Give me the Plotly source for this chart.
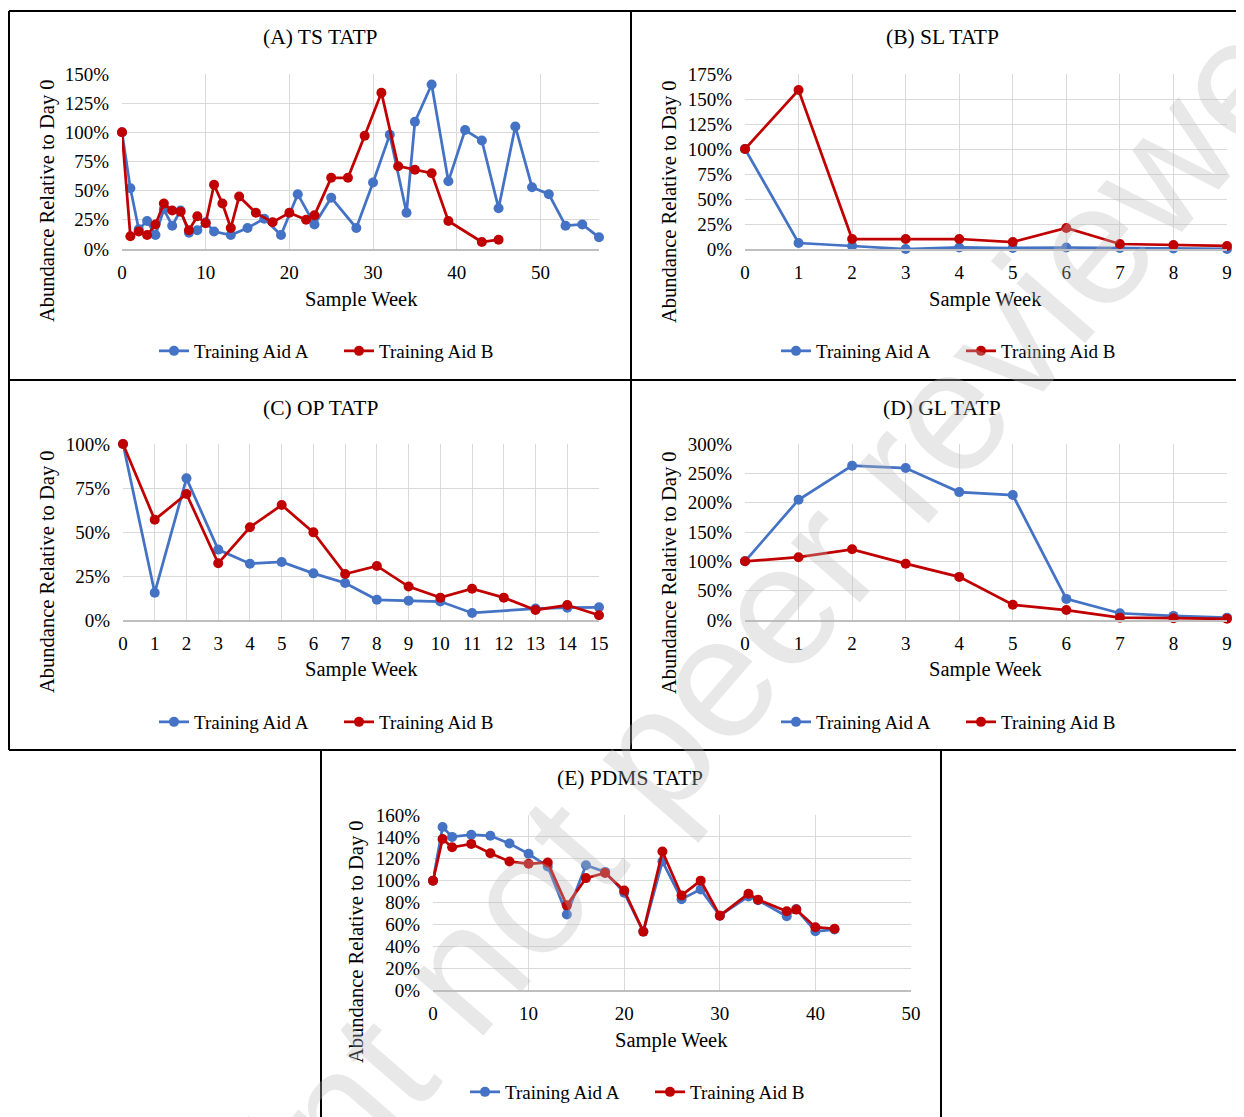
import plotly.graph_objects as go

# page body has an 8px margin; figure is sized to the remaining viewport
OFF = 8
W, H = 1244 - OFF, 1117 - OFF

# ---------------- data ----------------
series_names = ["Training Aid A", "Training Aid B"]
panel_titles = ["(A) TS TATP", "(B) SL TATP", "(C) OP TATP", "(D) GL TATP", "(E) PDMS TATP"]

A_blue_weeks = [0, 1, 2, 3, 4, 5, 6, 7, 8, 9, 10, 11, 13, 15, 17, 19, 21, 23, 25, 28,
                30, 32, 34, 35, 37, 39, 41, 43, 45, 47, 49, 51, 53, 55, 57]
A_blue = [100, 52, 17, 24, 12, 34, 20, 33, 14, 16, 23, 15, 12, 18, 26, 12, 47, 21, 44, 18,
          57, 98, 31, 109, 141, 58, 102, 93, 35, 105, 53, 47, 20, 21, 10]
A_red_weeks = [0, 1, 2, 3, 4, 5, 6, 7, 8, 9, 10, 11, 12, 13, 14, 16, 18, 20, 22, 23,
               25, 27, 29, 31, 33, 35, 37, 39, 43, 45]
A_red = [100, 11, 15, 12, 21, 39, 33, 32, 16, 28, 22, 55, 39, 18, 45, 31, 23, 31, 25, 29,
         61, 61, 97, 134, 71, 68, 65, 24, 6, 8]

B_weeks = [0, 1, 2, 3, 4, 5, 6, 7, 8, 9]
B_blue = [100, 6, 3, 0, 1.5, 1, 1.5, 1, 0.5, 0]
B_red = [100, 159, 10, 10, 10, 7, 21, 5, 4, 3]

C_blue_weeks = [0, 1, 2, 3, 4, 5, 6, 7, 8, 9, 10, 11, 13, 14, 15]
C_blue = [100, 15.5, 80.5, 40, 32, 33, 26.5, 21, 11.5, 11, 10.5, 4, 6.5, 7, 7.2]
C_red_weeks = [0, 1, 2, 3, 4, 5, 6, 7, 8, 9, 10, 11, 12, 13, 14, 15]
C_red = [100, 57, 71.6, 32.2, 52.7, 65.3, 49.8, 26.1, 30.7, 19, 12.7, 17.8, 12.7, 5.7, 8.5, 2.7]

D_weeks = [0, 1, 2, 3, 4, 5, 6, 7, 8, 9]
D_blue = [100, 205, 263, 259, 218, 213, 36, 11.5, 7, 4]
D_red = [100, 107, 120.5, 96, 73.5, 26, 17, 4, 3, 2]

E_weeks = [0, 1, 2, 4, 6, 8, 10, 12, 14, 16, 18, 20, 22, 24, 26, 28, 30, 33, 34, 37, 38, 40, 42]
E_blue = [100, 149, 140, 142, 141, 134, 124.5, 113, 69, 114, 108, 89, 53.4, 117.5, 83, 92,
          68, 85.6, 82, 67.4, 74, 53.7, 55.3]
E_red = [100, 138, 130.5, 133.6, 125, 117.5, 115.4, 116.6, 77.4, 102.3, 107, 91, 53.4, 126.6,
         86.5, 100, 68, 88, 82.6, 72, 73.5, 57.4, 56]

x_title = "Sample Week"
y_title = "Abundance Relative to Day 0"
watermark = "Preprint not peer reviewed"

# ---------------- style ----------------
BLUE = "#4472C4"
RED = "#C00000"
FONT = "Liberation Serif"
GRID = "#d9d9d9"

def px(x):
    return (x - OFF) / W

def py(y):
    return 1 - (y - OFF) / H

# panel geometry in page pixels: plot area (x0, x1, ytop, ybottom)
panels = [
    dict(data=(A_blue_weeks, A_blue, A_red_weeks, A_red), box=(122, 599, 74, 249),
         xr=[0, 57], xd=10, yr=[0, 150], yd=25,
         title=(320, 37), ytit=(47, 201), xtit=(361, 299), leg=(339, 351)),
    dict(data=(B_weeks, B_blue, B_weeks, B_red), box=(745, 1227, 74, 249),
         xr=[0, 9], xd=1, yr=[0, 175], yd=25,
         title=(942, 37), ytit=(669, 201), xtit=(985, 299), leg=(961, 351)),
    dict(data=(C_blue_weeks, C_blue, C_red_weeks, C_red), box=(123, 599, 444, 620),
         xr=[0, 15], xd=1, yr=[0, 100], yd=25,
         title=(320, 408), ytit=(47, 572), xtit=(361, 669), leg=(339, 722)),
    dict(data=(D_weeks, D_blue, D_weeks, D_red), box=(745, 1227, 444, 620),
         xr=[0, 9], xd=1, yr=[0, 300], yd=50,
         title=(942, 408), ytit=(669, 572), xtit=(985, 669), leg=(961, 722)),
    dict(data=(E_weeks, E_blue, E_weeks, E_red), box=(433, 911, 815, 990),
         xr=[0, 50], xd=10, yr=[0, 160], yd=20,
         title=(630, 778), ytit=(357, 942), xtit=(671, 1040), leg=(650, 1092)),
]

fig = go.Figure()
annotations = []
layout = {}

for i, p in enumerate(panels):
    n = i + 1
    xa = "x" if n == 1 else f"x{n}"
    ya = "y" if n == 1 else f"y{n}"
    leg = "legend" if n == 1 else f"legend{n}"
    bx, by, rx, ry = p["data"]
    for xs, ys, name, col in ((bx, by, series_names[0], BLUE), (rx, ry, series_names[1], RED)):
        fig.add_trace(go.Scatter(
            x=xs, y=ys, name=name, mode="lines+markers",
            line=dict(color=col, width=2.75),
            marker=dict(color=col, size=10, symbol="circle"),
            xaxis=xa, yaxis=ya, legend=leg, cliponaxis=False,
            showlegend=True,
        ))
    x0, x1, yt, yb = p["box"]
    layout[f"xaxis{'' if n == 1 else n}"] = dict(
        domain=[px(x0), px(x1)], anchor=ya, range=p["xr"], dtick=p["xd"], tick0=0,
        showgrid=True, gridcolor=GRID, gridwidth=1, zeroline=False,
        showline=True, linecolor="#bfbfbf", linewidth=1.5,
        ticks="", ticklabelstandoff=5, automargin=False,
        tickfont=dict(family=FONT, size=19, color="#000"),
    )
    layout[f"yaxis{'' if n == 1 else n}"] = dict(
        domain=[py(yb), py(yt)], anchor=xa, range=p["yr"], dtick=p["yd"], tick0=0,
        ticksuffix="%", showgrid=True, gridcolor=GRID, gridwidth=1, zeroline=False,
        showline=False, ticks="", ticklabelstandoff=12, automargin=False,
        tickfont=dict(family=FONT, size=19, color="#000"),
    )
    lx, ly = p["leg"]
    layout[leg] = dict(
        x=px(lx), y=py(ly), xanchor="center", yanchor="middle", orientation="h",
        font=dict(family=FONT, size=19, color="#000"), bgcolor="rgba(0,0,0,0)",
        itemwidth=30, tracegroupgap=0, traceorder="normal",
        entrywidth=140, entrywidthmode="pixels",
    )
    tx, ty = p["title"]
    annotations.append(dict(text=panel_titles[i], x=px(tx), y=py(ty), xref="paper", yref="paper",
                            showarrow=False, font=dict(family=FONT, size=21.5, color="#000"),
                            xanchor="center", yanchor="middle"))
    ax_, ay_ = p["ytit"]
    annotations.append(dict(text=y_title, x=px(ax_), y=py(ay_), xref="paper", yref="paper",
                            showarrow=False, textangle=-90,
                            font=dict(family=FONT, size=20.5, color="#000"),
                            xanchor="center", yanchor="middle"))
    sx, sy = p["xtit"]
    annotations.append(dict(text=x_title, x=px(sx), y=py(sy), xref="paper", yref="paper",
                            showarrow=False, font=dict(family=FONT, size=20.5, color="#000"),
                            xanchor="center", yanchor="middle"))

# watermark
annotations.append(dict(text=watermark, x=px(665), y=py(735), xref="paper", yref="paper",
                        showarrow=False, textangle=-49,
                        font=dict(family="Liberation Sans", size=172, color="rgba(185,185,185,0.33)"),
                        xanchor="center", yanchor="middle"))

# panel borders
def hline(y, xa, xb):
    return dict(type="line", xref="paper", yref="paper", x0=px(xa), x1=px(xb), y0=py(y), y1=py(y),
                line=dict(color="#000", width=2))

def vline(x, ya, yb):
    return dict(type="line", xref="paper", yref="paper", x0=px(x), x1=px(x), y0=py(ya), y1=py(yb),
                line=dict(color="#000", width=2))

shapes = [
    hline(11, 9, 1244), hline(380, 9, 1244), hline(750, 9, 1244),
    vline(9, 11, 750), vline(631, 11, 750),
    vline(321, 750, 1117), vline(941, 750, 1117),
]

fig.update_layout(
    width=W, height=H, margin=dict(l=0, r=0, t=0, b=0, pad=0, autoexpand=False),
    paper_bgcolor="white", plot_bgcolor="white",
    annotations=annotations, shapes=shapes, **layout,
)

fig.write_html("out.html")
